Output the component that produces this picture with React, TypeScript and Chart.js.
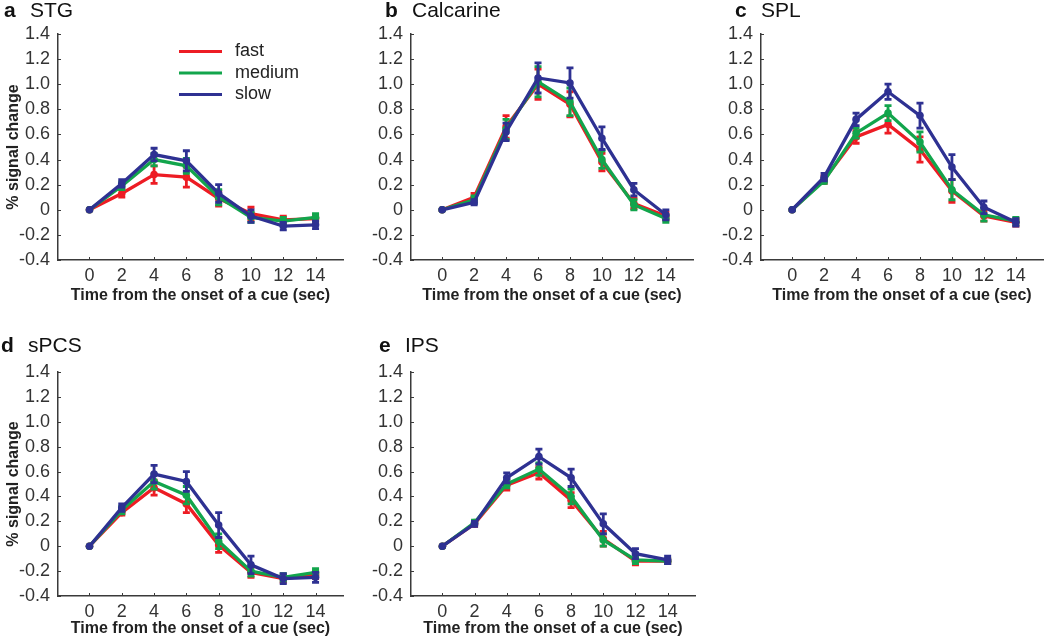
import React, { useEffect, useRef } from "react";
import { Chart, registerables } from "chart.js";

Chart.register(...registerables);

const FONT = "'Liberation Sans', Arial, Helvetica, sans-serif";

const TIME = [0, 2, 4, 6, 8, 10, 12, 14];
const X_TICKS = [0, 2, 4, 6, 8, 10, 12, 14];
const Y_TICKS = [-0.4, -0.2, 0, 0.2, 0.4, 0.6, 0.8, 1.0, 1.2, 1.4];
const SERIES_NAMES = ["fast", "medium", "slow"];
const SERIES_COLORS = ["#ed1c24", "#12a54c", "#2e3192"];
const X_TITLE = "Time from the onset of a cue (sec)";
const Y_TITLE = "% signal change";

// a STG
const STG_FAST = [0, 0.13, 0.28, 0.26, 0.09, -0.03, -0.08, -0.07];
const STG_FAST_ERR = [0, 0.03, 0.07, 0.08, 0.06, 0.05, 0.03, 0.03];
const STG_MEDIUM = [0, 0.19, 0.40, 0.35, 0.10, -0.06, -0.09, -0.06];
const STG_MEDIUM_ERR = [0, 0.03, 0.05, 0.06, 0.06, 0.04, 0.03, 0.03];
const STG_SLOW = [0, 0.21, 0.44, 0.39, 0.13, -0.05, -0.13, -0.12];
const STG_SLOW_ERR = [0, 0.03, 0.05, 0.08, 0.07, 0.05, 0.03, 0.03];

// b Calcarine
const CAL_FAST = [0, 0.10, 0.66, 1.00, 0.84, 0.38, 0.05, -0.05];
const CAL_FAST_ERR = [0, 0.03, 0.09, 0.12, 0.10, 0.07, 0.04, 0.03];
const CAL_MEDIUM = [0, 0.08, 0.64, 1.02, 0.86, 0.40, 0.04, -0.07];
const CAL_MEDIUM_ERR = [0, 0.03, 0.08, 0.12, 0.11, 0.07, 0.04, 0.03];
const CAL_SLOW = [0, 0.06, 0.62, 1.05, 1.01, 0.57, 0.16, -0.04];
const CAL_SLOW_ERR = [0, 0.02, 0.07, 0.12, 0.12, 0.09, 0.05, 0.04];

// c SPL
const SPL_FAST = [0, 0.24, 0.58, 0.68, 0.48, 0.15, -0.05, -0.10];
const SPL_FAST_ERR = [0, 0.03, 0.05, 0.07, 0.10, 0.09, 0.04, 0.03];
const SPL_MEDIUM = [0, 0.23, 0.61, 0.77, 0.54, 0.16, -0.04, -0.09];
const SPL_MEDIUM_ERR = [0, 0.02, 0.04, 0.06, 0.08, 0.08, 0.05, 0.03];
const SPL_SLOW = [0, 0.26, 0.72, 0.94, 0.75, 0.34, 0.02, -0.10];
const SPL_SLOW_ERR = [0, 0.03, 0.05, 0.06, 0.10, 0.10, 0.05, 0.03];

// d sPCS
const SPCS_FAST = [0, 0.27, 0.47, 0.34, 0.01, -0.21, -0.26, -0.23];
const SPCS_FAST_ERR = [0, 0.02, 0.06, 0.07, 0.06, 0.04, 0.03, 0.03];
const SPCS_MEDIUM = [0, 0.29, 0.52, 0.41, 0.04, -0.20, -0.25, -0.21];
const SPCS_MEDIUM_ERR = [0, 0.03, 0.06, 0.07, 0.06, 0.04, 0.03, 0.03];
const SPCS_SLOW = [0, 0.31, 0.58, 0.52, 0.17, -0.15, -0.26, -0.25];
const SPCS_SLOW_ERR = [0, 0.03, 0.07, 0.08, 0.10, 0.07, 0.04, 0.04];

// e IPS
const IPS_FAST = [0, 0.18, 0.49, 0.59, 0.37, 0.06, -0.12, -0.12];
const IPS_FAST_ERR = [0, 0.02, 0.04, 0.05, 0.06, 0.06, 0.03, 0.02];
const IPS_MEDIUM = [0, 0.19, 0.50, 0.62, 0.40, 0.05, -0.11, -0.12];
const IPS_MEDIUM_ERR = [0, 0.02, 0.03, 0.05, 0.06, 0.05, 0.03, 0.02];
const IPS_SLOW = [0, 0.18, 0.55, 0.72, 0.55, 0.18, -0.06, -0.11];
const IPS_SLOW_ERR = [0, 0.02, 0.04, 0.06, 0.07, 0.08, 0.04, 0.03];

type PanelProps = {
  letter: string;
  name: string;
  values: number[][];
  errors: number[][];
  showYTitle: boolean;
  showLegend: boolean;
  left: number;
  top: number;
  width: number;
  height: number;
  areaLeft: number;
  areaRight: number;
  areaTop: number;
  areaBottom: number;
  titleLeft: number;
  titleNameLeft: number;
  titleBaseline: number;
};

const AXIS_COLOR = "#3a3a3a";

function Panel(p: PanelProps) {
  const ref = useRef<HTMLCanvasElement | null>(null);

  useEffect(() => {
    const canvas = ref.current;
    if (!canvas) return;

    const errorBars = {
      id: "errorBars",
      afterDatasetDraw(chart: any, args: any) {
        const i = args.index;
        const ctx = chart.ctx;
        const meta = chart.getDatasetMeta(i);
        const ys = chart.scales.y;
        const errs = p.errors[i];
        const vals = p.values[i];
        ctx.save();
        ctx.strokeStyle = SERIES_COLORS[i];
        ctx.lineWidth = 2.8;
        meta.data.forEach((pt: any, j: number) => {
          const e = errs[j];
          if (!e) return;
          const x = pt.x;
          const y1 = ys.getPixelForValue(vals[j] + e);
          const y2 = ys.getPixelForValue(vals[j] - e);
          ctx.beginPath();
          ctx.moveTo(x, y1);
          ctx.lineTo(x, y2);
          ctx.moveTo(x - 3.5, y1);
          ctx.lineTo(x + 3.5, y1);
          ctx.moveTo(x - 3.5, y2);
          ctx.lineTo(x + 3.5, y2);
          ctx.stroke();
        });
        ctx.restore();
      },
    };

    const innerTicks = {
      id: "innerTicks",
      afterDraw(chart: any) {
        const ctx = chart.ctx;
        const xs = chart.scales.x;
        const ys = chart.scales.y;
        const area = chart.chartArea;
        ctx.save();
        ctx.strokeStyle = AXIS_COLOR;
        ctx.lineWidth = 1;
        X_TICKS.forEach((v) => {
          const x = Math.round(xs.getPixelForValue(v)) + 0.5;
          ctx.beginPath();
          ctx.moveTo(x, area.bottom);
          ctx.lineTo(x, area.bottom - 3);
          ctx.stroke();
        });
        Y_TICKS.forEach((v) => {
          const y = Math.round(ys.getPixelForValue(v)) + 0.5;
          ctx.beginPath();
          ctx.moveTo(area.left, y);
          ctx.lineTo(area.left + 3, y);
          ctx.stroke();
        });
        ctx.restore();
      },
    };

    const legendPlugin = {
      id: "innerLegend",
      afterDraw(chart: any) {
        if (!p.showLegend) return;
        const ctx = chart.ctx;
        const area = chart.chartArea;
        const x0 = area.left + 121;
        const y0 = area.top + 17.5;
        const step = 21.5;
        ctx.save();
        ctx.font = `18px ${FONT}`;
        ctx.textBaseline = "middle";
        ctx.textAlign = "left";
        SERIES_NAMES.forEach((nm, i) => {
          const y = y0 + i * step;
          ctx.strokeStyle = SERIES_COLORS[i];
          ctx.lineWidth = 3;
          ctx.beginPath();
          ctx.moveTo(x0, y);
          ctx.lineTo(x0 + 43, y);
          ctx.stroke();
          ctx.fillStyle = "#222";
          ctx.fillText(nm, x0 + 56, y);
        });
        ctx.restore();
      },
    };

    const datasets = SERIES_NAMES.map((nm, i) => ({
      label: nm,
      data: TIME.map((t, j) => ({ x: t, y: p.values[i][j] })),
      borderColor: SERIES_COLORS[i],
      backgroundColor: SERIES_COLORS[i],
      borderWidth: 3.3,
      pointRadius: 3.8,
      pointBorderWidth: 0,
      pointBackgroundColor: SERIES_COLORS[i],
      tension: 0,
      order: SERIES_NAMES.length - 1 - i,
    }));

    const chart = new Chart(canvas, {
      type: "line",
      data: { datasets },
      options: {
        animation: false,
        responsive: false,
        maintainAspectRatio: false,
        devicePixelRatio: 1,
        layout: {
          padding: {
            left: 0,
            top: p.areaTop - p.top,
            right: p.left + p.width - p.areaRight,
            bottom: 0,
          },
        },
        plugins: {
          legend: { display: false },
          tooltip: { enabled: false },
          title: { display: false },
        },
        scales: {
          x: {
            type: "linear",
            min: -1.95,
            max: 15.7,
            afterBuildTicks: (s: any) => {
              s.ticks = X_TICKS.map((v) => ({ value: v }));
            },
            afterFit: (s: any) => {
              s.height = p.top + p.height - p.areaBottom;
            },
            grid: { display: false, drawTicks: false },
            border: { display: true, color: AXIS_COLOR, width: 1.5 },
            ticks: {
              padding: 5,
              color: "#333",
              font: { family: FONT, size: 18 },
              maxRotation: 0,
              autoSkip: false,
              callback: (v: any) => String(v),
            },
            title: {
              display: true,
              text: X_TITLE,
              color: "#222",
              font: { family: FONT, size: 16, weight: "bold" },
              padding: { top: 0, bottom: 0 },
            },
          },
          y: {
            type: "linear",
            min: -0.4,
            max: 1.4,
            afterBuildTicks: (s: any) => {
              s.ticks = Y_TICKS.map((v) => ({ value: v }));
            },
            afterFit: (s: any) => {
              s.width = p.areaLeft - p.left;
            },
            grid: { display: false, drawTicks: false },
            border: { display: true, color: AXIS_COLOR, width: 1.5 },
            ticks: {
              padding: 8,
              color: "#333",
              font: { family: FONT, size: 18 },
              autoSkip: false,
              callback: (v: any) => {
                const n = Number(v);
                if (Math.abs(n) < 1e-9) return "0";
                return n.toFixed(1);
              },
            },
            title: {
              display: p.showYTitle,
              text: Y_TITLE,
              color: "#222",
              font: { family: FONT, size: 16, weight: "bold" },
              padding: { top: 4, bottom: 0 },
            },
          },
        },
      },
      plugins: [errorBars, innerTicks, legendPlugin],
    } as any);

    return () => chart.destroy();
  }, []);

  const titleSize = 21;
  return (
    <>
      <canvas
        ref={ref}
        width={p.width}
        height={p.height}
        style={{
          position: "absolute",
          left: p.left,
          top: p.top,
          width: p.width,
          height: p.height,
        }}
      />
      <div
        style={{
          position: "absolute",
          left: p.titleLeft,
          top: p.titleBaseline - Math.round(titleSize * 0.86),
          fontFamily: FONT,
          fontSize: titleSize,
          lineHeight: `${titleSize}px`,
          color: "#111",
          whiteSpace: "nowrap",
        }}
      >
        <span style={{ fontWeight: "bold" }}>{p.letter}</span>
        <span
          style={{
            position: "absolute",
            left: p.titleNameLeft - p.titleLeft,
            top: 0,
          }}
        >
          {p.name}
        </span>
      </div>
    </>
  );
}

export default function App() {
  return (
    <div
      style={{
        position: "fixed",
        left: 0,
        top: 0,
        width: 1050,
        height: 638,
        background: "#fff",
        overflow: "hidden",
      }}
    >
      <Panel
        letter="a"
        name="STG"
        values={[STG_FAST, STG_MEDIUM, STG_SLOW]}
        errors={[STG_FAST_ERR, STG_MEDIUM_ERR, STG_SLOW_ERR]}
        showYTitle={true}
        showLegend={true}
        left={0}
        top={0}
        width={350}
        height={305}
        areaLeft={58}
        areaRight={343}
        areaTop={34}
        areaBottom={260}
        titleLeft={4}
        titleNameLeft={30}
        titleBaseline={17}
      />
      <Panel
        letter="b"
        name="Calcarine"
        values={[CAL_FAST, CAL_MEDIUM, CAL_SLOW]}
        errors={[CAL_FAST_ERR, CAL_MEDIUM_ERR, CAL_SLOW_ERR]}
        showYTitle={false}
        showLegend={false}
        left={350}
        top={0}
        width={350}
        height={305}
        areaLeft={411}
        areaRight={693}
        areaTop={34}
        areaBottom={260}
        titleLeft={385}
        titleNameLeft={412}
        titleBaseline={17}
      />
      <Panel
        letter="c"
        name="SPL"
        values={[SPL_FAST, SPL_MEDIUM, SPL_SLOW]}
        errors={[SPL_FAST_ERR, SPL_MEDIUM_ERR, SPL_SLOW_ERR]}
        showYTitle={false}
        showLegend={false}
        left={700}
        top={0}
        width={350}
        height={305}
        areaLeft={761}
        areaRight={1043}
        areaTop={34}
        areaBottom={260}
        titleLeft={735}
        titleNameLeft={761}
        titleBaseline={17}
      />
      <Panel
        letter="d"
        name="sPCS"
        values={[SPCS_FAST, SPCS_MEDIUM, SPCS_SLOW]}
        errors={[SPCS_FAST_ERR, SPCS_MEDIUM_ERR, SPCS_SLOW_ERR]}
        showYTitle={true}
        showLegend={false}
        left={0}
        top={320}
        width={350}
        height={318}
        areaLeft={58}
        areaRight={343}
        areaTop={372}
        areaBottom={596}
        titleLeft={1}
        titleNameLeft={28}
        titleBaseline={352}
      />
      <Panel
        letter="e"
        name="IPS"
        values={[IPS_FAST, IPS_MEDIUM, IPS_SLOW]}
        errors={[IPS_FAST_ERR, IPS_MEDIUM_ERR, IPS_SLOW_ERR]}
        showYTitle={false}
        showLegend={false}
        left={350}
        top={320}
        width={350}
        height={318}
        areaLeft={411}
        areaRight={695}
        areaTop={372}
        areaBottom={596}
        titleLeft={379}
        titleNameLeft={405}
        titleBaseline={352}
      />
    </div>
  );
}
